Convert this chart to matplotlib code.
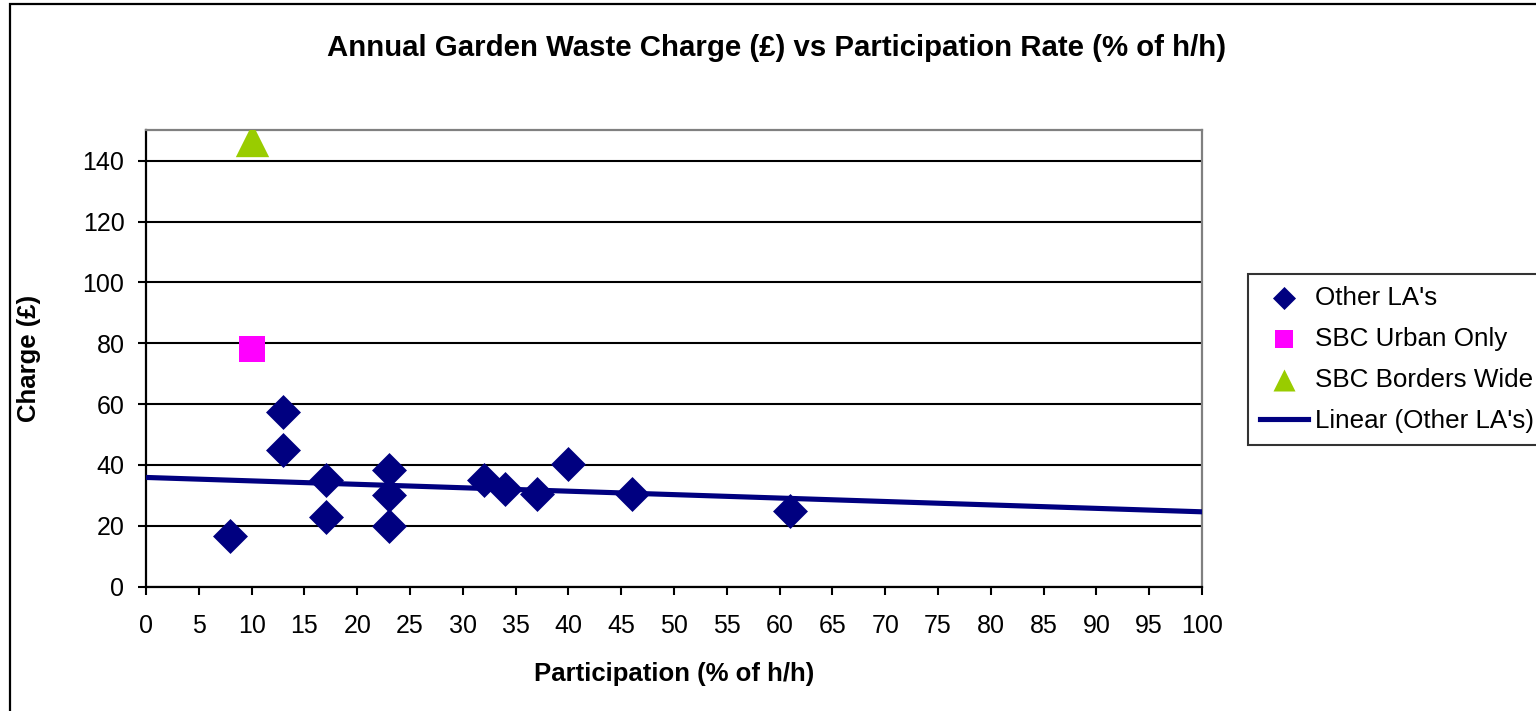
import numpy as np
import matplotlib
matplotlib.use("Agg")
import matplotlib.pyplot as plt
from matplotlib.patches import Rectangle

plt.rcParams['font.family'] = ['Liberation Sans', 'DejaVu Sans']

title = "Annual Garden Waste Charge (£) vs Participation Rate (% of h/h)"
xlabel = "Participation (% of h/h)"
ylabel = "Charge (£)"

other_x = [8, 13, 13, 17, 17, 23, 23, 23, 32, 34, 37, 40, 46, 61]
other_y = [16.5, 57.5, 45, 35, 23, 38.5, 30.2, 20, 35, 32.2, 30.4, 40.3, 30.4, 25]
urban_x = [10]
urban_y = [78.2]
borders_x = [10]
borders_y = [146.7]

xticks = list(range(0, 101, 5))
yticks = list(range(0, 141, 20))

W, H = 1536, 711
fig = plt.figure(figsize=(W / 100, H / 100), dpi=100)
ax = fig.add_axes([146 / W, 1 - 586.7 / H, (1202 - 146) / W, (586.7 - 130.3) / H])

navy = '#000080'
ax.scatter(other_x, other_y, marker='D', s=17.8 ** 2, color=navy, zorder=4, label="Other LA's", linewidths=0)
ax.scatter(urban_x, urban_y, marker='s', s=18.7 ** 2, color='#FF00FF', zorder=4, label="SBC Urban Only", linewidths=0)
ax.scatter(borders_x, borders_y, marker='^', s=24 ** 2, color='#99CC00', zorder=4, label="SBC Borders Wide", linewidths=0)

coef = np.polyfit(other_x, other_y, 1)
lx = np.array([0, 100])
ax.plot(lx, np.polyval(coef, lx), color=navy, lw=3.7, zorder=3, label="Linear (Other LA's)")

ax.set_xlim(0, 100)
ax.set_ylim(0, 150)
ax.set_xticks(xticks)
ax.set_yticks(yticks)
ax.yaxis.grid(True, color='black', lw=1.5)
ax.set_axisbelow(True)

for s in ['left', 'bottom']:
    ax.spines[s].set_color('black')
    ax.spines[s].set_linewidth(1.6)
for s in ['top', 'right']:
    ax.spines[s].set_color('#808080')
    ax.spines[s].set_linewidth(1.6)

ax.tick_params(axis='both', direction='out', length=6, width=1.5, labelsize=18, colors='black')
ax.tick_params(axis='x', pad=14)
ax.tick_params(axis='y', pad=9.5)

ax.set_xlabel(xlabel, fontsize=18.5, fontweight='bold', labelpad=17)
ax.set_ylabel(ylabel, fontsize=18.5, fontweight='bold', labelpad=30)
fig.text(777 / W, 1 - 48 / H, title, ha='center', va='center', fontsize=21.2, fontweight='bold')

handles, labels = ax.get_legend_handles_labels()
leg = fig.legend(handles, labels,
                 loc='upper left', bbox_to_anchor=(1248 / W, 1 - 274 / H),
                 bbox_transform=fig.transFigure, fontsize=18.7, frameon=True,
                 fancybox=False, edgecolor='black', markerscale=0.66,
                 handlelength=1.85, handletextpad=0.28, labelspacing=0.66,
                 borderpad=0.46, borderaxespad=0)
leg.get_frame().set_linewidth(1.5)

fig.patches.append(Rectangle((10 / W, -0.1), 1.2, 1 - 4 / H + 0.1, transform=fig.transFigure,
                             fill=False, edgecolor='black', lw=1.6, clip_on=False))

fig.savefig('out.png', dpi=100)
